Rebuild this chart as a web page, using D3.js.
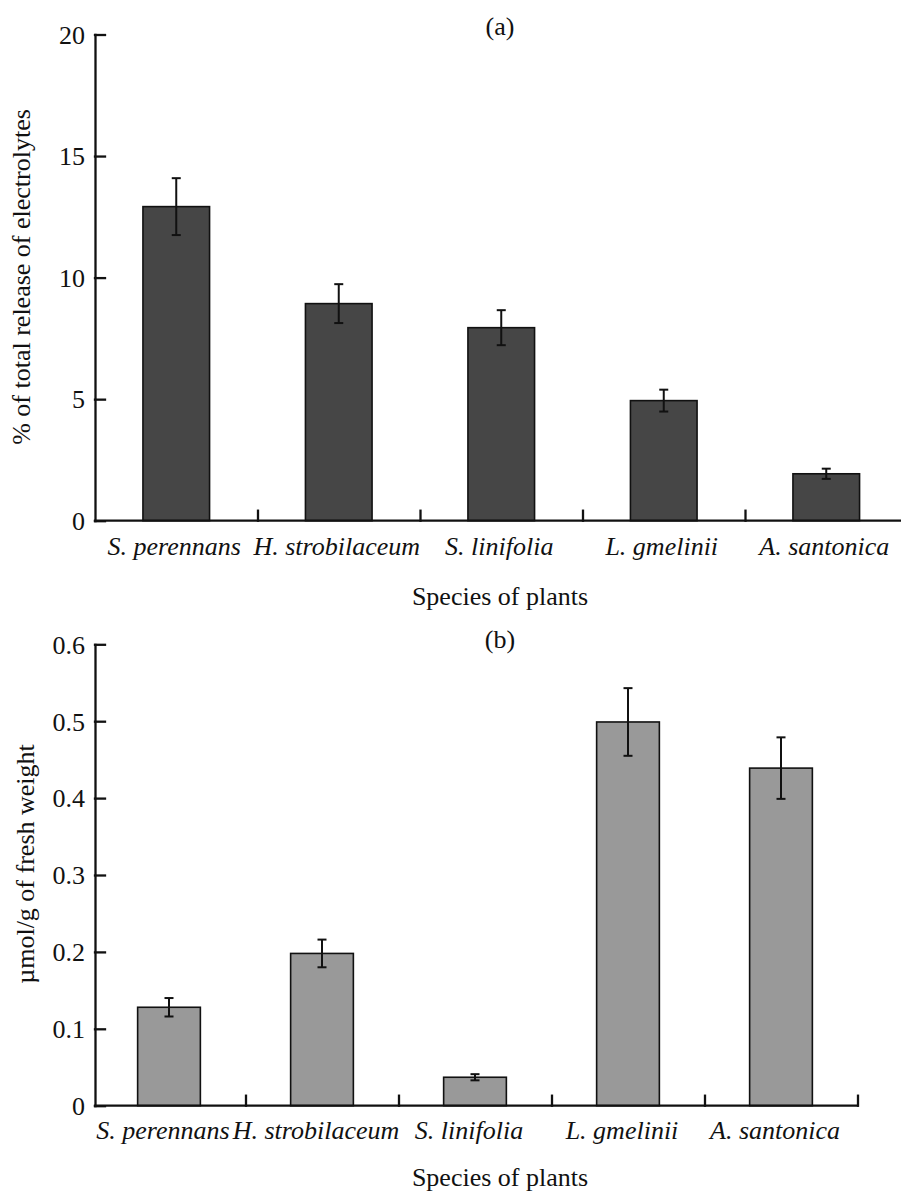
<!DOCTYPE html>
<html>
<head>
<meta charset="utf-8">
<script src="https://cdn.jsdelivr.net/npm/d3@7"></script>
<style>
  body { margin: 0; background: #fff; }
  text { font-family: "Liberation Serif", "Times New Roman", serif; fill: #111; }
</style>
</head>
<body>
<div id="chart"></div>
<script>
// data
var species = ["S. perennans", "H. strobilaceum", "S. linifolia", "L. gmelinii", "A. santonica"];

// (a) % of total release of electrolytes
var releaseValues = [12.92, 8.93, 7.94, 4.94, 1.93];
var releaseErrors = [1.17, 0.8, 0.72, 0.45, 0.21];
var releaseTicks = [0, 5, 10, 15, 20];

// (b) umol/g of fresh weight
var weightValues = [0.128, 0.198, 0.037, 0.499, 0.439];
var weightErrors = [0.012, 0.018, 0.004, 0.044, 0.04];
var weightTicks = [0, 0.1, 0.2, 0.3, 0.4, 0.5, 0.6];

var W = 901, H = 1193;
var svg = d3.select("#chart").append("svg")
  .attr("width", W)
  .attr("height", H);

function drawPanel(opt){
  var x = d3.scaleBand().domain(species).range(opt.xRange)
    .paddingInner(0.59).paddingOuter(0.295);
  var y = d3.scaleLinear().domain([0, opt.ticks[opt.ticks.length-1]]).range(opt.yRange);
  var g = svg.append("g");

  // bars
  g.selectAll("rect.bar").data(opt.values).enter().append("rect")
    .attr("class", "bar")
    .attr("x", function(d, i){return x(species[i])})
    .attr("y", function(d){return y(d)})
    .attr("width", x.bandwidth())
    .attr("height", function(d){return y(0)-y(d)})
    .attr("fill", opt.fill)
    .attr("stroke", "#111")
    .attr("stroke-width", 1.6);

  // error bars
  var cx = function(i){return x(species[i])+x.bandwidth()/2};
  var eb = g.selectAll("g.err").data(opt.values).enter().append("g")
    .attr("class", "err")
    .attr("stroke", "#111")
    .attr("stroke-width", 2);
  eb.append("line")
    .attr("x1", function(d, i){return cx(i)}).attr("x2", function(d, i){return cx(i)})
    .attr("y1", function(d, i){return y(d+opt.errors[i])})
    .attr("y2", function(d, i){return y(d-opt.errors[i])});
  [1, -1].forEach(function(s){
    eb.append("line")
      .attr("x1", function(d, i){return cx(i)-4.5}).attr("x2", function(d, i){return cx(i)+4.5})
      .attr("y1", function(d, i){return y(d+s*opt.errors[i])})
      .attr("y2", function(d, i){return y(d+s*opt.errors[i])});
  });

  // y axis, ticks pointing inward
  var yAxis = g.append("g")
    .attr("transform", "translate(" + opt.yAxisX + ",0)")
    .call(d3.axisLeft(y).tickValues(opt.ticks).tickFormat(function(d){return String(d)})
      .tickSizeInner(-10).tickSizeOuter(0).tickPadding(10));

  // x axis: inward ticks on category boundaries
  var bounds = d3.scaleLinear().domain([0, species.length]).range(opt.xRange);
  var xAxis = g.append("g")
    .attr("transform", "translate(0," + y(0) + ")")
    .call(d3.axisBottom(bounds).tickValues(d3.range(1, species.length+1))
      .tickFormat("").tickSizeInner(-10).tickSizeOuter(0));
  xAxis.select(".domain").attr("d", "M" + opt.yAxisX + ",0H" + opt.xRange[1]);

  [yAxis, xAxis].forEach(function(a){
    a.attr("font-family", null).attr("font-size", null);
    a.selectAll("path, line").attr("stroke", "#111").attr("stroke-width", 2.3)
      .attr("stroke-linecap", "square");
  });
  yAxis.selectAll("text").attr("font-size", 26).attr("fill", "#111").attr("dy", "0.34em");

  // category labels
  g.selectAll("text.cat").data(species).enter().append("text")
    .attr("class", "cat")
    .attr("x", function(d){return x(d)+x.bandwidth()/2+opt.labelShift})
    .attr("y", opt.catY)
    .attr("text-anchor", "middle")
    .attr("font-style", "italic")
    .attr("font-size", 26)
    .text(function(d){return d});

  g.append("text")
    .attr("x", 500).attr("y", opt.xTitleY)
    .attr("text-anchor", "middle").attr("font-size", 26)
    .text("Species of plants");

  g.append("text")
    .attr("transform", "translate(" + opt.yTitleX + "," + opt.yTitleY + ") rotate(-90)")
    .attr("text-anchor", "middle").attr("font-size", 26)
    .text(opt.yTitle);

  g.append("text")
    .attr("x", 500).attr("y", opt.panelY)
    .attr("text-anchor", "middle").attr("font-size", 26)
    .text(opt.panel);
}

drawPanel({
  values: releaseValues, errors: releaseErrors, ticks: releaseTicks,
  fill: "#464646",
  xRange: [95, 907.5], yRange: [520.7, 34.5], yAxisX: 95,
  catY: 555, labelShift: -2, xTitleY: 605,
  yTitle: "% of total release of electrolytes", yTitleX: 30, yTitleY: 277,
  panel: "(a)", panelY: 35
});

drawPanel({
  values: weightValues, errors: weightErrors, ticks: weightTicks,
  fill: "#999999",
  xRange: [92.5, 857.5], yRange: [1105.7, 644.3], yAxisX: 95,
  catY: 1139, labelShift: -6, xTitleY: 1186,
  yTitle: "\u00b5mol/g of fresh weight", yTitleX: 34, yTitleY: 864,
  panel: "(b)", panelY: 648
});
</script>
</body>
</html>
